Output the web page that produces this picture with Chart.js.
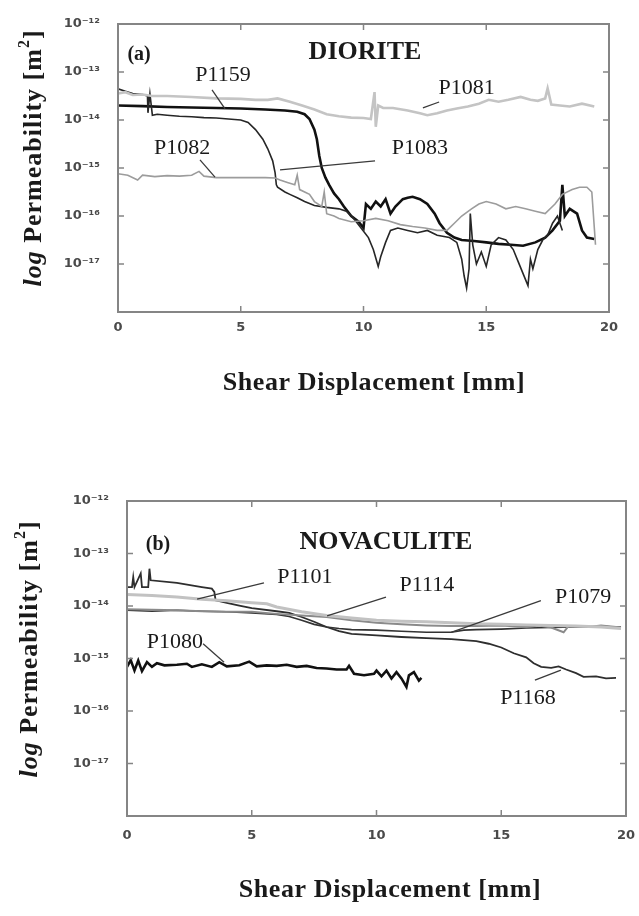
<!DOCTYPE html>
<html>
<head>
<meta charset="utf-8">
<script src="https://cdn.jsdelivr.net/npm/chart.js@4.4.1/dist/chart.umd.min.js"></script>
<style>
  html, body { margin: 0; padding: 0; background: #ffffff; }
  #wrapA { position: absolute; left: 0; top: 0; width: 639px; height: 430px; }
  #wrapB { position: absolute; left: 0; top: 440px; width: 639px; height: 476px; }
  canvas { display: block; }
</style>
</head>
<body>
<div id="wrapA"><canvas id="chartA" width="639" height="430"></canvas></div>
<div id="wrapB"><canvas id="chartB" width="639" height="476"></canvas></div>
<script>
// ---------- axes ----------
const xTickValues = [0, 5, 10, 15, 20];
const yTickValues = [1e-18, 1e-17, 1e-16, 1e-15, 1e-14, 1e-13, 1e-12];
const yTickLabels = ['', '10⁻¹⁷', '10⁻¹⁶', '10⁻¹⁵', '10⁻¹⁴', '10⁻¹³', '10⁻¹²'];
const xAxisTitle = 'Shear Displacement [mm]';

// ---------- (a) DIORITE : shear displacement [mm] / permeability [m^2] ----------
const p1081X = [0, 0.3, 0.6, 1.0, 1.4, 2.0, 3.0, 4.0, 5.0, 5.6, 6.1, 6.5, 7.0, 7.5, 8.0, 8.5, 9.0, 9.5, 10.0, 10.3, 10.45, 10.5, 10.6, 10.8, 11.2, 11.8, 12.3, 12.6, 13.0, 13.4, 13.8, 14.25, 14.7, 15.1, 15.5, 15.9, 16.4, 16.8, 17.1, 17.4, 17.5, 17.65, 18.0, 18.4, 18.9, 19.4];
const p1081K = [3.55e-14, 3.80e-14, 3.31e-14, 3.39e-14, 3.16e-14, 3.16e-14, 3.02e-14, 2.82e-14, 2.75e-14, 2.63e-14, 2.63e-14, 2.82e-14, 2.40e-14, 2.00e-14, 1.66e-14, 1.32e-14, 1.20e-14, 1.12e-14, 1.10e-14, 1.05e-14, 3.80e-14, 7.24e-15, 2.00e-14, 1.78e-14, 1.78e-14, 1.58e-14, 1.38e-14, 1.26e-14, 1.38e-14, 1.58e-14, 1.74e-14, 1.91e-14, 2.19e-14, 2.63e-14, 2.40e-14, 2.63e-14, 3.02e-14, 2.63e-14, 2.51e-14, 2.82e-14, 4.57e-14, 2.09e-14, 2.00e-14, 1.91e-14, 2.19e-14, 1.91e-14];

const p1082X = [0, 0.4, 0.8, 1.0, 1.5, 2.0, 2.5, 3.0, 3.3, 3.5, 4.0, 5.0, 6.0, 6.4, 6.6, 6.9, 7.2, 7.3, 7.4, 7.8, 8.0, 8.3, 8.4, 8.5, 8.8, 9.0, 9.5, 10.0, 10.5, 11.0, 11.5, 12.0, 12.5, 13.0, 13.4, 13.7, 14.0, 14.4, 14.7, 15.0, 15.4, 15.8, 16.2, 16.6, 17.0, 17.4, 17.8, 18.1, 18.5, 18.8, 19.1, 19.3, 19.45];
const p1082K = [7.59e-16, 7.08e-16, 5.62e-16, 7.08e-16, 6.61e-16, 6.92e-16, 6.76e-16, 7.08e-16, 8.51e-16, 6.76e-16, 6.31e-16, 6.31e-16, 6.31e-16, 6.17e-16, 5.62e-16, 5.01e-16, 4.47e-16, 7.08e-16, 3.55e-16, 2.82e-16, 2.00e-16, 1.58e-16, 3.16e-16, 1.12e-16, 1.00e-16, 8.91e-17, 7.59e-17, 7.94e-17, 8.91e-17, 7.94e-17, 6.61e-17, 6.03e-17, 5.62e-17, 5.01e-17, 5.01e-17, 7.08e-17, 1.00e-16, 1.41e-16, 1.78e-16, 2.00e-16, 1.78e-16, 1.41e-16, 1.58e-16, 1.41e-16, 1.26e-16, 1.12e-16, 1.78e-16, 2.82e-16, 3.55e-16, 3.98e-16, 3.98e-16, 3.16e-16, 2.51e-17];

const p1159X = [0, 1.0, 2.0, 3.0, 4.0, 5.0, 6.0, 6.8, 7.3, 7.6, 7.8, 8.0, 8.1, 8.2, 8.3, 8.45, 8.6, 8.8, 9.0, 9.2, 9.5, 9.8, 10.0, 10.1, 10.3, 10.5, 10.7, 10.9, 11.1, 11.3, 11.6, 11.8, 12.0, 12.3, 12.6, 12.9, 13.1, 13.4, 13.7, 14.0, 14.5, 15.0, 15.5, 16.0, 16.5, 17.0, 17.4, 17.7, 18.0, 18.1, 18.2, 18.4, 18.7, 18.9, 19.1, 19.4];
const p1159K = [2.00e-14, 1.95e-14, 1.86e-14, 1.82e-14, 1.78e-14, 1.74e-14, 1.66e-14, 1.58e-14, 1.48e-14, 1.32e-14, 1.05e-14, 6.31e-15, 3.98e-15, 1.78e-15, 1.00e-15, 6.31e-16, 4.47e-16, 2.95e-16, 2.24e-16, 1.58e-16, 1.00e-16, 7.59e-17, 5.62e-17, 1.78e-16, 1.41e-16, 2.00e-16, 1.58e-16, 2.24e-16, 1.12e-16, 1.58e-16, 2.24e-16, 2.40e-16, 2.51e-16, 2.24e-16, 1.78e-16, 1.12e-16, 7.08e-17, 4.47e-17, 3.55e-17, 3.16e-17, 3.02e-17, 2.82e-17, 2.63e-17, 2.51e-17, 2.40e-17, 2.82e-17, 3.55e-17, 5.01e-17, 7.94e-17, 4.47e-16, 1.00e-16, 1.41e-16, 1.12e-16, 5.01e-17, 3.55e-17, 3.31e-17];

const p1083X = [0, 0.3, 0.6, 1.0, 1.2, 1.22, 1.3, 1.4, 1.6, 2.0, 2.5, 3.0, 3.5, 4.0, 4.5, 5.0, 5.3, 5.6, 5.9, 6.1, 6.3, 6.4, 6.45, 6.5, 6.8, 7.0, 7.3, 7.6, 8.0, 8.5, 9.0, 9.3, 9.6, 9.9, 10.2, 10.4, 10.6, 10.7, 10.9, 11.1, 11.4, 11.8, 12.2, 12.6, 13.0, 13.5, 13.8, 14.0, 14.1, 14.2, 14.3, 14.35, 14.45, 14.6, 14.8, 15.0, 15.2, 15.5, 15.8, 16.1, 16.3, 16.5, 16.7, 16.8, 16.9, 17.1, 17.3, 17.5, 17.7, 17.9, 18.1];
const p1083K = [4.47e-14, 3.98e-14, 3.55e-14, 3.39e-14, 3.16e-14, 1.41e-14, 3.55e-14, 1.26e-14, 1.32e-14, 1.26e-14, 1.20e-14, 1.17e-14, 1.12e-14, 1.10e-14, 1.05e-14, 1.00e-14, 8.91e-15, 6.31e-15, 3.98e-15, 2.51e-15, 1.41e-15, 7.94e-16, 4.47e-16, 3.98e-16, 3.16e-16, 2.82e-16, 2.40e-16, 2.00e-16, 1.66e-16, 1.51e-16, 1.41e-16, 1.26e-16, 8.91e-17, 5.62e-17, 3.55e-17, 2.00e-17, 8.91e-18, 1.41e-17, 2.82e-17, 5.01e-17, 5.62e-17, 5.01e-17, 4.47e-17, 5.01e-17, 3.98e-17, 3.55e-17, 2.82e-17, 1.26e-17, 5.62e-18, 3.16e-18, 7.94e-18, 1.12e-16, 2.51e-17, 1.00e-17, 1.78e-17, 8.91e-18, 2.51e-17, 3.55e-17, 3.16e-17, 2.00e-17, 1.12e-17, 6.31e-18, 3.55e-18, 1.26e-17, 7.94e-18, 2.00e-17, 3.16e-17, 3.98e-17, 7.08e-17, 1.00e-16, 5.01e-17];

// ---------- (b) NOVACULITE ----------
const p1101X = [0, 1, 2, 3, 4, 5, 5.6, 6, 7, 8, 9, 10, 11, 12, 13, 14, 15, 16, 17, 18, 19, 19.8];
const p1101K = [1.66e-14, 1.58e-14, 1.48e-14, 1.35e-14, 1.26e-14, 1.15e-14, 1.10e-14, 9.55e-15, 7.76e-15, 6.61e-15, 5.89e-15, 5.37e-15, 5.13e-15, 5.01e-15, 4.79e-15, 4.57e-15, 4.47e-15, 4.37e-15, 4.27e-15, 4.17e-15, 3.98e-15, 3.72e-15];

const p1114X = [0, 1, 2, 3, 4, 5, 6, 7, 8, 9, 10, 11, 12, 13, 14, 15, 16, 16.5, 17.0, 17.5, 17.7, 18.5, 19.0, 19.8];
const p1114K = [8.71e-15, 8.51e-15, 8.32e-15, 7.94e-15, 7.76e-15, 7.76e-15, 7.08e-15, 6.61e-15, 6.17e-15, 5.37e-15, 4.79e-15, 4.47e-15, 4.27e-15, 4.17e-15, 4.17e-15, 4.27e-15, 3.98e-15, 4.27e-15, 3.89e-15, 3.16e-15, 4.17e-15, 3.98e-15, 4.27e-15, 3.89e-15];

const p1079X = [0, 1, 2, 3, 4, 5, 6, 6.5, 7.0, 7.5, 8.0, 8.5, 9.0, 10.0, 11.0, 12.0, 13.0, 13.5, 14.0, 15.0, 16.0, 17.0, 18.0, 19.0, 19.8];
const p1079K = [8.32e-15, 7.94e-15, 8.32e-15, 7.94e-15, 7.76e-15, 7.41e-15, 6.92e-15, 6.31e-15, 5.37e-15, 4.47e-15, 3.98e-15, 3.72e-15, 3.55e-15, 3.47e-15, 3.31e-15, 3.16e-15, 3.16e-15, 3.47e-15, 3.55e-15, 3.63e-15, 3.80e-15, 3.89e-15, 3.98e-15, 4.07e-15, 3.98e-15];

const p1168X = [0, 0.2, 0.25, 0.3, 0.55, 0.6, 0.85, 0.9, 0.95, 2.0, 3.0, 3.4, 3.5, 3.55, 4.0, 4.5, 5.0, 6.0, 6.5, 7.0, 7.5, 8.0, 8.5, 9.0, 10.0, 11.0, 12.0, 13.0, 14.0, 14.5, 15.0, 15.5, 16.0, 16.3, 16.6, 17.0, 17.3, 17.6, 18.0, 18.3, 18.8, 19.2, 19.6];
const p1168K = [2.29e-14, 2.29e-14, 3.55e-14, 2.29e-14, 4.17e-14, 2.29e-14, 2.29e-14, 5.13e-14, 3.09e-14, 2.75e-14, 2.29e-14, 2.14e-14, 1.86e-14, 1.29e-14, 1.15e-14, 1.02e-14, 9.12e-15, 7.94e-15, 7.41e-15, 6.17e-15, 5.01e-15, 3.98e-15, 3.31e-15, 2.95e-15, 2.75e-15, 2.57e-15, 2.45e-15, 2.34e-15, 2.14e-15, 1.91e-15, 1.62e-15, 1.26e-15, 1.05e-15, 8.13e-16, 6.92e-16, 6.61e-16, 7.08e-16, 6.17e-16, 5.25e-16, 4.47e-16, 4.57e-16, 4.17e-16, 4.27e-16];

const p1080X = [0, 0.15, 0.3, 0.45, 0.6, 0.8, 1.0, 1.2, 1.5, 2.0, 2.4, 2.6, 3.0, 3.4, 3.7, 4.0, 4.5, 4.9, 5.2, 5.6, 6.0, 6.4, 6.8, 7.2, 7.6, 8.0, 8.4, 8.8, 8.9, 9.1, 9.5, 9.9, 10.0, 10.2, 10.4, 10.6, 10.8, 11.0, 11.2, 11.3, 11.5, 11.7, 11.8];
const p1080K = [6.92e-16, 9.33e-16, 5.89e-16, 9.12e-16, 5.75e-16, 8.51e-16, 6.92e-16, 8.13e-16, 7.41e-16, 7.59e-16, 7.94e-16, 6.92e-16, 7.76e-16, 6.92e-16, 8.51e-16, 7.08e-16, 7.41e-16, 8.71e-16, 7.08e-16, 7.41e-16, 7.24e-16, 7.59e-16, 6.92e-16, 7.24e-16, 6.61e-16, 6.46e-16, 6.17e-16, 6.17e-16, 7.24e-16, 5.13e-16, 4.79e-16, 5.13e-16, 5.89e-16, 4.57e-16, 5.89e-16, 4.17e-16, 5.50e-16, 4.17e-16, 2.88e-16, 4.79e-16, 5.50e-16, 3.80e-16, 4.27e-16];

// ---------- curve labels (data coordinates) ----------
const dioriteLabels = ['P1159', 'P1081', 'P1082', 'P1083'];
const dioriteLabelX = [4.28, 14.2, 2.61, 12.3];
const dioriteLabelK = [8.7e-14, 4.7e-14, 2.6e-15, 2.6e-15];
const dioriteLeaderX0 = [3.83, 13.08, 3.34, 10.47];
const dioriteLeaderK0 = [4.22e-14, 2.37e-14, 1.48e-15, 1.41e-15];
const dioriteLeaderX1 = [4.36, 12.42, 3.95, 6.6];
const dioriteLeaderK1 = [1.70e-14, 1.78e-14, 6.46e-16, 9.12e-16];

const novaLabels = ['P1101', 'P1114', 'P1079', 'P1168', 'P1080'];
const novaLabelX = [7.13, 12.02, 18.28, 16.07, 1.92];
const novaLabelK = [3.55e-14, 2.51e-14, 1.48e-14, 1.78e-16, 2.0e-15];
const novaLeaderX0 = [5.49, 10.38, 16.59, 16.35, 3.05];
const novaLeaderK0 = [2.75e-14, 1.48e-14, 1.26e-14, 3.89e-16, 1.91e-15];
const novaLeaderX1 = [2.81, 8.02, 12.99, 17.39, 3.89];
const novaLeaderK1 = [1.35e-14, 6.46e-15, 3.16e-15, 6.03e-16, 8.51e-16];

// ---------- helpers ----------
function pts(xs, ks) { return xs.map((x, i) => ({ x: x, y: ks[i] })); }
function ds(label, xs, ks, color, width) {
  return { label: label, data: pts(xs, ks), borderColor: color, backgroundColor: color,
           borderWidth: width, pointRadius: 0, showLine: true, tension: 0, fill: false };
}
function labelItems(names, xs, ks, x0, k0, x1, k1) {
  return names.map((n, i) => ({ text: n, x: xs[i], k: ks[i], lx0: x0[i], lk0: k0[i], lx1: x1[i], lk1: k1[i] }));
}

const SERIF = '"Liberation Serif", "Times New Roman", serif';

const decorPlugin = {
  id: 'decor',
  afterDatasetsDraw(chart, args, o) {
    const ctx = chart.ctx, a = chart.chartArea, xs = chart.scales.x, ys = chart.scales.y;
    ctx.save();
    // frame
    ctx.strokeStyle = '#858585';
    ctx.lineWidth = 2;
    ctx.strokeRect(a.left, a.top, a.right - a.left, a.bottom - a.top);
    // inward tick marks
    ctx.lineWidth = 1.5;
    ctx.beginPath();
    xTickValues.slice(1, -1).forEach(v => {
      const px = xs.getPixelForValue(v);
      ctx.moveTo(px, a.bottom); ctx.lineTo(px, a.bottom - 6);
      ctx.moveTo(px, a.top); ctx.lineTo(px, a.top + 6);
    });
    yTickValues.slice(1, -1).forEach(v => {
      const py = ys.getPixelForValue(v);
      ctx.moveTo(a.left, py); ctx.lineTo(a.left + 6, py);
      ctx.moveTo(a.right, py); ctx.lineTo(a.right - 6, py);
    });
    ctx.stroke();
    // leaders
    ctx.strokeStyle = '#3a3a3a';
    ctx.lineWidth = 1.3;
    o.labels.forEach(l => {
      ctx.beginPath();
      ctx.moveTo(xs.getPixelForValue(l.lx0), ys.getPixelForValue(l.lk0));
      ctx.lineTo(xs.getPixelForValue(l.lx1), ys.getPixelForValue(l.lk1));
      ctx.stroke();
    });
    // curve labels
    ctx.fillStyle = '#1a1a1a';
    ctx.textAlign = 'center';
    ctx.textBaseline = 'middle';
    ctx.font = '22px ' + SERIF;
    o.labels.forEach(l => {
      ctx.fillText(l.text, xs.getPixelForValue(l.x), ys.getPixelForValue(l.k));
    });
    // panel tag and rock name
    ctx.font = 'bold 20px ' + SERIF;
    ctx.fillText(o.tag.text, xs.getPixelForValue(o.tag.x), ys.getPixelForValue(o.tag.k));
    ctx.font = 'bold 26px ' + SERIF;
    ctx.fillText(o.name.text, xs.getPixelForValue(o.name.x), ys.getPixelForValue(o.name.k));
    // x axis title
    ctx.font = 'bold 26px ' + SERIF;
    ctx.letterSpacing = '0.6px';
    ctx.fillText(xAxisTitle, o.xTitle.cx, o.xTitle.cy);
    // y axis title (rotated, italic "log", superscript 2)
    ctx.translate(o.yTitle.cx, o.yTitle.cy);
    ctx.rotate(-Math.PI / 2);
    ctx.letterSpacing = '1px';
    const parts = [
      { t: 'log', f: 'italic bold 26px ' + SERIF, dy: 0 },
      { t: ' Permeability [m', f: 'bold 26px ' + SERIF, dy: 0 },
      { t: '2', f: 'bold 16px ' + SERIF, dy: -9 },
      { t: ']', f: 'bold 26px ' + SERIF, dy: 0 }
    ];
    let total = 0;
    parts.forEach(p => { ctx.font = p.f; p.w = ctx.measureText(p.t).width; total += p.w; });
    let cx = -total / 2;
    ctx.textAlign = 'left';
    parts.forEach(p => { ctx.font = p.f; ctx.fillText(p.t, cx, p.dy); cx += p.w; });
    ctx.restore();
  }
};

function makeChart(id, datasets, cfg) {
  return new Chart(document.getElementById(id), {
    type: 'scatter',
    data: { datasets: datasets },
    options: {
      responsive: false,
      animation: false,
      devicePixelRatio: 1,
      layout: { padding: cfg.padding },
      plugins: {
        legend: { display: false },
        tooltip: { enabled: false },
        decor: cfg.decor
      },
      scales: {
        x: {
          type: 'linear', min: 0, max: 20,
          grid: { display: false }, border: { display: false },
          afterBuildTicks: s => { s.ticks = xTickValues.map(v => ({ value: v })); },
          afterFit: s => { s.height = 30; s.paddingLeft = 0; s.paddingRight = 0; },
          ticks: { padding: cfg.xPad, color: '#4a4a4a', font: { family: '"DejaVu Sans"', size: 13, weight: 'bold' } }
        },
        y: {
          type: 'logarithmic', min: 1e-18, max: 1e-12,
          grid: { display: false }, border: { display: false },
          afterBuildTicks: s => { s.ticks = yTickValues.map(v => ({ value: v })); },
          afterFit: s => { s.width = cfg.yWidth; s.paddingTop = 0; s.paddingBottom = 0; },
          ticks: {
            padding: cfg.yPad, color: '#4a4a4a',
            font: { family: '"DejaVu Sans"', size: 13, weight: 'bold' },
            callback: (v, i) => yTickLabels[i]
          }
        }
      }
    },
    plugins: [decorPlugin]
  });
}

makeChart('chartA', [
  ds('P1081', p1081X, p1081K, '#c4c4c4', 2.6),
  ds('P1082', p1082X, p1082K, '#9c9c9c', 1.6),
  ds('P1083', p1083X, p1083K, '#262626', 1.6),
  ds('P1159', p1159X, p1159K, '#111111', 2.6)
], {
  padding: { left: 0, right: 30, top: 24, bottom: 88 },
  yWidth: 118, yPad: 10, xPad: 0,
  decor: {
    labels: labelItems(dioriteLabels, dioriteLabelX, dioriteLabelK, dioriteLeaderX0, dioriteLeaderK0, dioriteLeaderX1, dioriteLeaderK1),
    tag: { text: '(a)', x: 0.86, k: 2.24e-13 },
    name: { text: 'DIORITE', x: 10.06, k: 2.63e-13 },
    xTitle: { cx: 374, cy: 383 },
    yTitle: { cx: 34, cy: 158 }
  }
});

makeChart('chartB', [
  ds('P1101', p1101X, p1101K, '#c2c2c2', 3),
  ds('P1114', p1114X, p1114K, '#8a8a8a', 2),
  ds('P1079', p1079X, p1079K, '#333333', 1.6),
  ds('P1168', p1168X, p1168K, '#2e2e2e', 1.8),
  ds('P1080', p1080X, p1080K, '#111111', 2.6)
], {
  padding: { left: 0, right: 13, top: 61, bottom: 70 },
  yWidth: 127, yPad: 10, xPad: 4,
  decor: {
    labels: labelItems(novaLabels, novaLabelX, novaLabelK, novaLeaderX0, novaLeaderK0, novaLeaderX1, novaLeaderK1),
    tag: { text: '(b)', x: 1.24, k: 1.45e-13 },
    name: { text: 'NOVACULITE', x: 10.38, k: 1.66e-13 },
    xTitle: { cx: 390, cy: 450 },
    yTitle: { cx: 30, cy: 209 }
  }
});
</script>
</body>
</html>
